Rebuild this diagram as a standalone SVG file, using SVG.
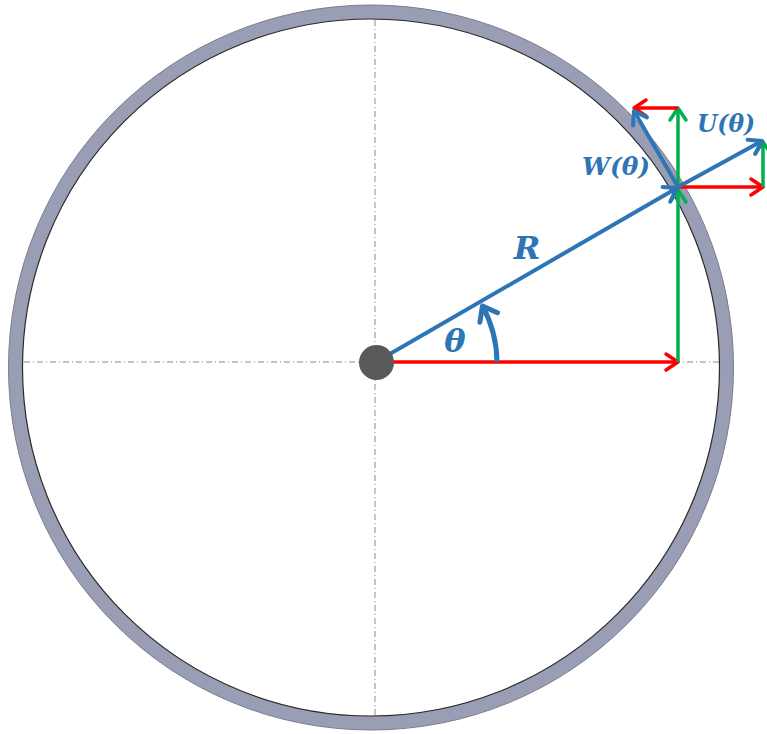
<svg xmlns="http://www.w3.org/2000/svg" width="767" height="734" viewBox="0 0 767 734">
<style>
.axis{stroke:#8a8a8a;stroke-width:1;stroke-dasharray:6 3 1 3;fill:none}
.red{stroke:#ff0000;stroke-width:3.5;fill:none}
.green{stroke:#00b050;stroke-width:3.5;fill:none}
.blue{stroke:#2e75b6;stroke-width:4;fill:none}
.lbl{font-family:"DejaVu Serif","Liberation Serif",serif;font-weight:bold;font-style:italic;fill:#2e75b6}
</style>
<defs>
<marker id="ar" markerUnits="userSpaceOnUse" markerWidth="30" markerHeight="30" refX="0" refY="0" orient="auto" overflow="visible" viewBox="-15 -15 30 30">
<path d="M-12,-8 L0,0 L-12,8" fill="none" stroke="#ff0000" stroke-width="3.5" stroke-linecap="round" stroke-linejoin="round"/>
</marker>
<marker id="ag" markerUnits="userSpaceOnUse" markerWidth="30" markerHeight="30" refX="0" refY="0" orient="auto" overflow="visible" viewBox="-15 -15 30 30">
<path d="M-12,-8 L0,0 L-12,8" fill="none" stroke="#00b050" stroke-width="3.5" stroke-linecap="round" stroke-linejoin="round"/>
</marker>
<marker id="ab" markerUnits="userSpaceOnUse" markerWidth="30" markerHeight="30" refX="0" refY="0" orient="auto" overflow="visible" viewBox="-15 -15 30 30">
<path d="M-12,-8 L0,0 L-12,8" fill="none" stroke="#2e75b6" stroke-width="4" stroke-linecap="round" stroke-linejoin="round"/>
</marker>
<marker id="abt" markerUnits="userSpaceOnUse" markerWidth="30" markerHeight="30" refX="0" refY="0" orient="auto" overflow="visible" viewBox="-15 -15 30 30">
<path d="M-13,-10 L0,0 L-13,10" fill="none" stroke="#2e75b6" stroke-width="5" stroke-linecap="round" stroke-linejoin="round"/>
</marker>
</defs>
<rect width="767" height="734" fill="#ffffff"/>
<g id="ring">
<circle cx="371" cy="367.5" r="355.5" fill="none" stroke="#9a9eb5" stroke-width="14"/>
<circle cx="371" cy="367.5" r="362.5" fill="none" stroke="#7a7e90" stroke-width="1"/>
<circle cx="371" cy="367.5" r="348.5" fill="none" stroke="#2a2a2a" stroke-width="1.2"/>
</g>
<g id="axes">
<line class="axis" x1="375" y1="20" x2="375" y2="716"/>
<line class="axis" x1="24" y1="362" x2="719" y2="362"/>
</g>
<g id="connectors">
<line class="red" x1="390" y1="362" x2="678" y2="362" marker-end="url(#ar)"/>
<line class="green" x1="678" y1="362" x2="678" y2="190" marker-end="url(#ag)"/>
<line class="blue" x1="376" y1="362" x2="677" y2="188" marker-end="url(#ab)"/>
<line class="red" x1="678" y1="187" x2="763" y2="187" marker-end="url(#ar)"/>
<line class="green" x1="763" y1="187" x2="763" y2="142" marker-end="url(#ag)"/>
<line class="blue" x1="678" y1="187" x2="762" y2="141" marker-end="url(#ab)"/>
<line class="green" x1="678" y1="187" x2="678" y2="108" marker-end="url(#ag)"/>
<line class="red" x1="678" y1="108" x2="634" y2="108" marker-end="url(#ar)"/>
<line class="blue" x1="678" y1="187" x2="634" y2="111" marker-end="url(#ab)"/>
<path d="M497,362 A121,121 0 0 0 482.5,306" fill="none" stroke="#2e75b6" stroke-width="5" marker-end="url(#abt)"/>
</g>
<g id="center">
<circle cx="376.5" cy="362.5" r="17.5" fill="#58595b"/>
</g>
<g id="labels">
<text class="lbl" x="455" y="352" font-size="32" text-anchor="middle">θ</text>
<text class="lbl" x="527" y="259" font-size="32" text-anchor="middle">R</text>
<text class="lbl" x="582" y="175" font-size="24" textLength="68" lengthAdjust="spacingAndGlyphs">W(θ)</text>
<text class="lbl" x="697" y="132" font-size="24" textLength="58" lengthAdjust="spacingAndGlyphs">U(θ)</text>
</g>
</svg>
